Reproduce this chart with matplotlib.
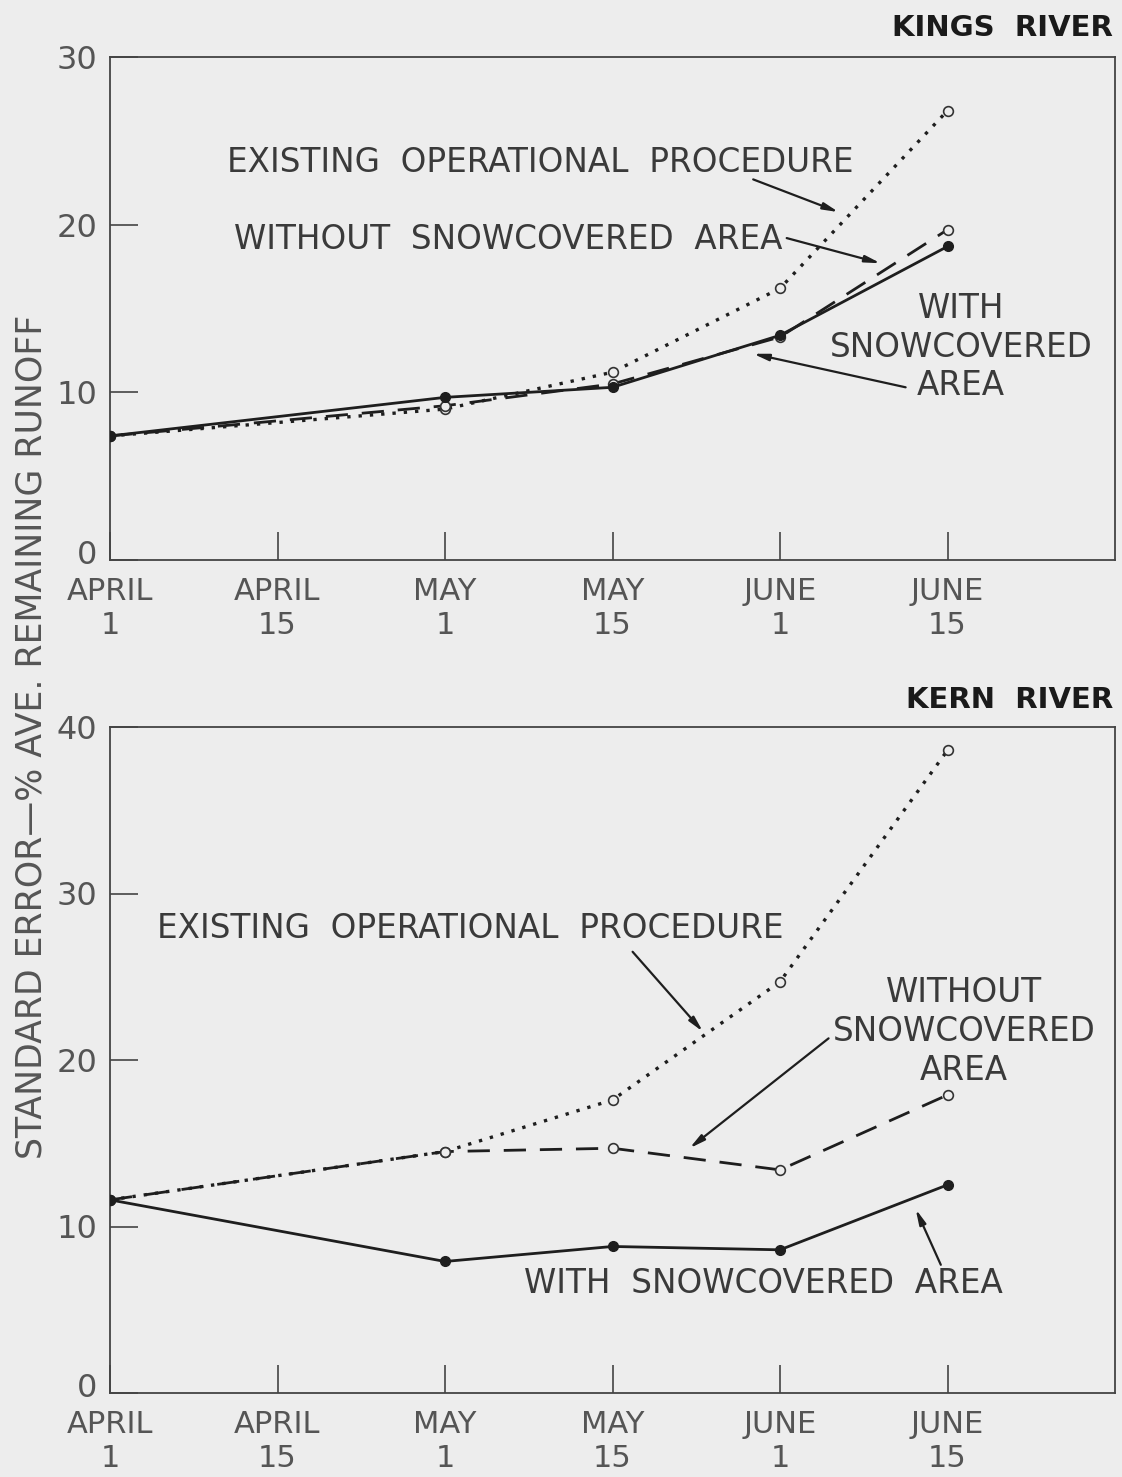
import matplotlib
matplotlib.use("Agg")
import matplotlib.pyplot as plt
import matplotlib.transforms as mtransforms
from matplotlib import font_manager

# ---------------- data ----------------
dates = ["APRIL\n1", "APRIL\n15", "MAY\n1", "MAY\n15", "JUNE\n1", "JUNE\n15"]
xpos = [0, 1, 2, 3, 4, 5]

kings_existing = [7.4, 9.0, 11.2, 16.2, 26.8]
kings_without = [7.4, 9.2, 10.5, 13.3, 19.7]
kings_with = [7.4, 9.7, 10.3, 13.4, 18.7]

kern_existing = [11.6, 14.5, 17.6, 24.7, 38.6]
kern_without = [11.6, 14.5, 14.7, 13.4, 17.9]
kern_with = [11.6, 7.9, 8.8, 8.6, 12.5]

# points are at April 1, May 1, May 15, June 1, June 15
pt_x = [0, 2, 3, 4, 5]

BG = "#ededed"
INK = "#1e1e1e"
GRAY = "#555555"

names = {f.name for f in font_manager.fontManager.ttflist}
narrow = "Liberation Sans Narrow" if "Liberation Sans Narrow" in names else "DejaVu Sans"

fig = plt.figure(figsize=(11.22, 14.77), dpi=100, facecolor=BG)

W, H = 1122, 1477


def axes_px(l, t, r, b):
    return fig.add_axes([l / W, 1 - b / H, (r - l) / W, (b - t) / H])


ax1 = axes_px(110, 57, 1115, 560)
ax2 = axes_px(110, 727, 1115, 1393)

TXT = dict(fontsize=23.5, color="#3a3a3a", family="DejaVu Sans")


def style(ax, ymax, step):
    ax.set_facecolor(BG)
    ax.set_xlim(0, 6)
    ax.set_ylim(0, ymax)
    ax.set_xticks(xpos)
    ax.set_xticklabels(dates, fontsize=22, color=GRAY, linespacing=1.25,
                       family="DejaVu Sans")
    ax.set_yticks(list(range(0, ymax + 1, step)))
    ax.tick_params(axis="both", direction="in", length=20, width=1.2, color="#444444")
    ax.tick_params(axis="y", labelsize=23, labelcolor=GRAY, pad=9)
    ax.tick_params(axis="x", pad=12)
    for s in ax.spines.values():
        s.set_color("#444444")
        s.set_linewidth(1.3)
    # the "0" label sits slightly above the baseline in the original
    lbl = ax.get_yticklabels()[0]
    lbl.set_transform(lbl.get_transform() +
                      mtransforms.ScaledTranslation(0, 8 / 100, fig.dpi_scale_trans))


def plot_set(ax, ex, wo, wi):
    ax.plot(pt_x, ex, linestyle=(0, (1, 2.4)), lw=2.4, color=INK,
            marker="o", ms=7, mfc=BG, mec="#333333", mew=1.2, zorder=3)
    ax.plot(pt_x, wo, linestyle=(0, (8, 5)), lw=2.0, color=INK,
            marker="o", ms=7, mfc=BG, mec="#333333", mew=1.2, zorder=3)
    ax.plot(pt_x, wi, linestyle="-", lw=2.0, color=INK,
            marker="o", ms=7, mfc=INK, mec=INK, zorder=4)


def arrow(ax, start, tip):
    ax.annotate("", xy=tip, xytext=start,
                arrowprops=dict(arrowstyle="-|>,head_length=0.9,head_width=0.2",
                                color=INK, lw=1.6, shrinkA=0, shrinkB=0))


style(ax1, 30, 10)
style(ax2, 40, 10)
plot_set(ax1, kings_existing, kings_without, kings_with)
plot_set(ax2, kern_existing, kern_without, kern_with)

# ---- Kings annotations ----
ax1.text(2.57, 23.7, "EXISTING  OPERATIONAL  PROCEDURE", ha="center", va="center", **TXT)
arrow(ax1, (3.84, 22.7), (4.35, 20.75))
ax1.text(2.38, 19.1, "WITHOUT  SNOWCOVERED  AREA", ha="center", va="center", **TXT)
arrow(ax1, (4.04, 19.2), (4.60, 17.7))
ax1.text(5.08, 12.7, "WITH\nSNOWCOVERED\nAREA", ha="center", va="center",
         linespacing=1.22, **TXT)
arrow(ax1, (4.75, 10.3), (3.84, 12.3))

# ---- Kern annotations ----
ax2.text(2.15, 27.9, "EXISTING  OPERATIONAL  PROCEDURE", ha="center", va="center", **TXT)
arrow(ax2, (3.12, 26.5), (3.54, 21.7))
ax2.text(5.10, 21.7, "WITHOUT\nSNOWCOVERED\nAREA", ha="center", va="center",
         linespacing=1.22, **TXT)
arrow(ax2, (4.29, 21.3), (3.46, 14.7))
ax2.text(3.90, 6.6, "WITH  SNOWCOVERED  AREA", ha="center", va="center", **TXT)
arrow(ax2, (4.96, 7.7), (4.81, 11.05))

# ---- titles ----
fig.text(1113 / W, 1 - 28 / H, "KINGS  RIVER", ha="right", va="center",
         fontsize=21, fontweight="bold", color="#1a1a1a", family="DejaVu Sans")
fig.text(1113 / W, 1 - 700 / H, "KERN  RIVER", ha="right", va="center",
         fontsize=21, fontweight="bold", color="#1a1a1a", family="DejaVu Sans")

# ---- y label ----
fig.text(32 / W, 1 - 737 / H, "STANDARD ERROR—% AVE. REMAINING RUNOFF",
         rotation=90, ha="center", va="center", fontsize=25, color=GRAY, family=narrow)

fig.savefig("out.png", dpi=100, facecolor=BG)
